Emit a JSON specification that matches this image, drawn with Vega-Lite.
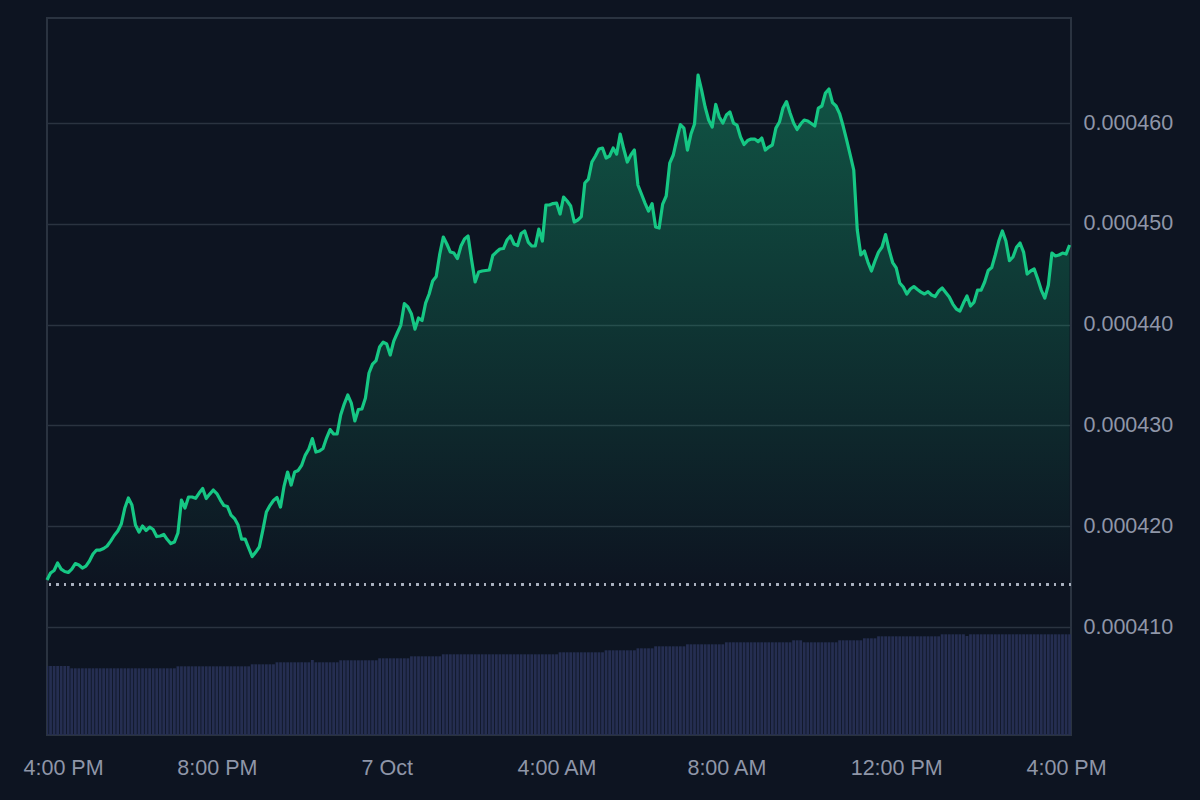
{
"$schema": "https://vega.github.io/schema/vega-lite/v6.json",
"width": 1024, "height": 717,
"autosize": {"type": "none"},
"padding": {"left": 47, "top": 18, "right": 129, "bottom": 65},
"background": "#0d1421",
"config": {"view": {"stroke": "#2a3340", "strokeWidth": 2}, "font": "Liberation Sans"},
"data": {"values": [
{"t":"2024-10-06T16:00Z","p":0.00041466,"v":6.9},
{"t":"2024-10-06T16:05Z","p":0.00041536,"v":6.9},
{"t":"2024-10-06T16:10Z","p":0.00041561,"v":6.9},
{"t":"2024-10-06T16:15Z","p":0.00041635,"v":6.9},
{"t":"2024-10-06T16:20Z","p":0.00041575,"v":6.9},
{"t":"2024-10-06T16:25Z","p":0.00041551,"v":6.9},
{"t":"2024-10-06T16:30Z","p":0.00041541,"v":6.9},
{"t":"2024-10-06T16:35Z","p":0.00041575,"v":6.67},
{"t":"2024-10-06T16:40Z","p":0.00041630,"v":6.67},
{"t":"2024-10-06T16:45Z","p":0.00041615,"v":6.67},
{"t":"2024-10-06T16:50Z","p":0.00041585,"v":6.67},
{"t":"2024-10-06T16:55Z","p":0.00041605,"v":6.67},
{"t":"2024-10-06T17:00Z","p":0.00041655,"v":6.67},
{"t":"2024-10-06T17:05Z","p":0.00041724,"v":6.67},
{"t":"2024-10-06T17:10Z","p":0.00041764,"v":6.67},
{"t":"2024-10-06T17:15Z","p":0.00041764,"v":6.67},
{"t":"2024-10-06T17:20Z","p":0.00041779,"v":6.67},
{"t":"2024-10-06T17:25Z","p":0.00041804,"v":6.67},
{"t":"2024-10-06T17:30Z","p":0.00041853,"v":6.67},
{"t":"2024-10-06T17:35Z","p":0.00041908,"v":6.67},
{"t":"2024-10-06T17:40Z","p":0.00041952,"v":6.67},
{"t":"2024-10-06T17:45Z","p":0.00042022,"v":6.67},
{"t":"2024-10-06T17:50Z","p":0.00042181,"v":6.67},
{"t":"2024-10-06T17:55Z","p":0.00042280,"v":6.67},
{"t":"2024-10-06T18:00Z","p":0.00042210,"v":6.67},
{"t":"2024-10-06T18:05Z","p":0.00042012,"v":6.67},
{"t":"2024-10-06T18:10Z","p":0.00041942,"v":6.67},
{"t":"2024-10-06T18:15Z","p":0.00042002,"v":6.67},
{"t":"2024-10-06T18:20Z","p":0.00041957,"v":6.67},
{"t":"2024-10-06T18:25Z","p":0.00041992,"v":6.67},
{"t":"2024-10-06T18:30Z","p":0.00041967,"v":6.67},
{"t":"2024-10-06T18:35Z","p":0.00041898,"v":6.67},
{"t":"2024-10-06T18:40Z","p":0.00041903,"v":6.67},
{"t":"2024-10-06T18:45Z","p":0.00041918,"v":6.67},
{"t":"2024-10-06T18:50Z","p":0.00041868,"v":6.67},
{"t":"2024-10-06T18:55Z","p":0.00041828,"v":6.67},
{"t":"2024-10-06T19:00Z","p":0.00041843,"v":6.67},
{"t":"2024-10-06T19:05Z","p":0.00041933,"v":6.87},
{"t":"2024-10-06T19:10Z","p":0.00042260,"v":6.87},
{"t":"2024-10-06T19:15Z","p":0.00042181,"v":6.87},
{"t":"2024-10-06T19:20Z","p":0.00042290,"v":6.87},
{"t":"2024-10-06T19:25Z","p":0.00042290,"v":6.87},
{"t":"2024-10-06T19:30Z","p":0.00042277,"v":6.87},
{"t":"2024-10-06T19:35Z","p":0.00042329,"v":6.87},
{"t":"2024-10-06T19:40Z","p":0.00042374,"v":6.87},
{"t":"2024-10-06T19:45Z","p":0.00042275,"v":6.87},
{"t":"2024-10-06T19:50Z","p":0.00042319,"v":6.87},
{"t":"2024-10-06T19:55Z","p":0.00042359,"v":6.87},
{"t":"2024-10-06T20:00Z","p":0.00042324,"v":6.87},
{"t":"2024-10-06T20:05Z","p":0.00042260,"v":6.87},
{"t":"2024-10-06T20:10Z","p":0.00042205,"v":6.87},
{"t":"2024-10-06T20:15Z","p":0.00042195,"v":6.87},
{"t":"2024-10-06T20:20Z","p":0.00042111,"v":6.87},
{"t":"2024-10-06T20:25Z","p":0.00042076,"v":6.87},
{"t":"2024-10-06T20:30Z","p":0.00042012,"v":6.87},
{"t":"2024-10-06T20:35Z","p":0.00041873,"v":6.87},
{"t":"2024-10-06T20:40Z","p":0.00041873,"v":6.87},
{"t":"2024-10-06T20:45Z","p":0.00041784,"v":6.87},
{"t":"2024-10-06T20:50Z","p":0.00041699,"v":7.07},
{"t":"2024-10-06T20:55Z","p":0.00041744,"v":7.07},
{"t":"2024-10-06T21:00Z","p":0.00041794,"v":7.07},
{"t":"2024-10-06T21:05Z","p":0.00041962,"v":7.07},
{"t":"2024-10-06T21:10Z","p":0.00042141,"v":7.07},
{"t":"2024-10-06T21:15Z","p":0.00042205,"v":7.07},
{"t":"2024-10-06T21:20Z","p":0.00042255,"v":7.07},
{"t":"2024-10-06T21:25Z","p":0.00042285,"v":7.27},
{"t":"2024-10-06T21:30Z","p":0.00042190,"v":7.27},
{"t":"2024-10-06T21:35Z","p":0.00042399,"v":7.27},
{"t":"2024-10-06T21:40Z","p":0.00042538,"v":7.27},
{"t":"2024-10-06T21:45Z","p":0.00042409,"v":7.27},
{"t":"2024-10-06T21:50Z","p":0.00042538,"v":7.27},
{"t":"2024-10-06T21:55Z","p":0.00042553,"v":7.27},
{"t":"2024-10-06T22:00Z","p":0.00042607,"v":7.27},
{"t":"2024-10-06T22:05Z","p":0.00042706,"v":7.27},
{"t":"2024-10-06T22:10Z","p":0.00042766,"v":7.27},
{"t":"2024-10-06T22:15Z","p":0.00042870,"v":7.5},
{"t":"2024-10-06T22:20Z","p":0.00042736,"v":7.27},
{"t":"2024-10-06T22:25Z","p":0.00042746,"v":7.27},
{"t":"2024-10-06T22:30Z","p":0.00042771,"v":7.27},
{"t":"2024-10-06T22:35Z","p":0.00042875,"v":7.27},
{"t":"2024-10-06T22:40Z","p":0.00042959,"v":7.27},
{"t":"2024-10-06T22:45Z","p":0.00042915,"v":7.27},
{"t":"2024-10-06T22:50Z","p":0.00042915,"v":7.27},
{"t":"2024-10-06T22:55Z","p":0.00043103,"v":7.47},
{"t":"2024-10-06T23:00Z","p":0.00043212,"v":7.47},
{"t":"2024-10-06T23:05Z","p":0.00043302,"v":7.47},
{"t":"2024-10-06T23:10Z","p":0.00043222,"v":7.47},
{"t":"2024-10-06T23:15Z","p":0.00043044,"v":7.47},
{"t":"2024-10-06T23:20Z","p":0.00043158,"v":7.47},
{"t":"2024-10-06T23:25Z","p":0.00043163,"v":7.47},
{"t":"2024-10-06T23:30Z","p":0.00043272,"v":7.47},
{"t":"2024-10-06T23:35Z","p":0.00043520,"v":7.47},
{"t":"2024-10-06T23:40Z","p":0.00043609,"v":7.47},
{"t":"2024-10-06T23:45Z","p":0.00043644,"v":7.47},
{"t":"2024-10-06T23:50Z","p":0.00043778,"v":7.67},
{"t":"2024-10-06T23:55Z","p":0.00043827,"v":7.67},
{"t":"2024-10-07T00:00Z","p":0.00043808,"v":7.67},
{"t":"2024-10-07T00:05Z","p":0.00043698,"v":7.67},
{"t":"2024-10-07T00:10Z","p":0.00043837,"v":7.67},
{"t":"2024-10-07T00:15Z","p":0.00043917,"v":7.67},
{"t":"2024-10-07T00:20Z","p":0.00043996,"v":7.67},
{"t":"2024-10-07T00:25Z","p":0.00044209,"v":7.67},
{"t":"2024-10-07T00:30Z","p":0.00044175,"v":7.67},
{"t":"2024-10-07T00:35Z","p":0.00044105,"v":7.87},
{"t":"2024-10-07T00:40Z","p":0.00043956,"v":7.87},
{"t":"2024-10-07T00:45Z","p":0.00044066,"v":7.87},
{"t":"2024-10-07T00:50Z","p":0.00044041,"v":7.87},
{"t":"2024-10-07T00:55Z","p":0.00044214,"v":7.87},
{"t":"2024-10-07T01:00Z","p":0.00044304,"v":7.87},
{"t":"2024-10-07T01:05Z","p":0.00044433,"v":7.87},
{"t":"2024-10-07T01:10Z","p":0.00044477,"v":7.87},
{"t":"2024-10-07T01:15Z","p":0.00044700,"v":7.87},
{"t":"2024-10-07T01:20Z","p":0.00044869,"v":8.07},
{"t":"2024-10-07T01:25Z","p":0.00044800,"v":8.07},
{"t":"2024-10-07T01:30Z","p":0.00044720,"v":8.07},
{"t":"2024-10-07T01:35Z","p":0.00044710,"v":8.07},
{"t":"2024-10-07T01:40Z","p":0.00044656,"v":8.07},
{"t":"2024-10-07T01:45Z","p":0.00044780,"v":8.07},
{"t":"2024-10-07T01:50Z","p":0.00044849,"v":8.07},
{"t":"2024-10-07T01:55Z","p":0.00044879,"v":8.07},
{"t":"2024-10-07T02:00Z","p":0.00044641,"v":8.07},
{"t":"2024-10-07T02:05Z","p":0.00044423,"v":8.07},
{"t":"2024-10-07T02:10Z","p":0.00044522,"v":8.07},
{"t":"2024-10-07T02:15Z","p":0.00044532,"v":8.07},
{"t":"2024-10-07T02:20Z","p":0.00044537,"v":8.07},
{"t":"2024-10-07T02:25Z","p":0.00044542,"v":8.07},
{"t":"2024-10-07T02:30Z","p":0.00044686,"v":8.07},
{"t":"2024-10-07T02:35Z","p":0.00044720,"v":8.07},
{"t":"2024-10-07T02:40Z","p":0.00044750,"v":8.07},
{"t":"2024-10-07T02:45Z","p":0.00044755,"v":8.07},
{"t":"2024-10-07T02:50Z","p":0.00044839,"v":8.07},
{"t":"2024-10-07T02:55Z","p":0.00044879,"v":8.07},
{"t":"2024-10-07T03:00Z","p":0.00044800,"v":8.07},
{"t":"2024-10-07T03:05Z","p":0.00044785,"v":8.07},
{"t":"2024-10-07T03:10Z","p":0.00044904,"v":8.07},
{"t":"2024-10-07T03:15Z","p":0.00044929,"v":8.07},
{"t":"2024-10-07T03:20Z","p":0.00044819,"v":8.07},
{"t":"2024-10-07T03:25Z","p":0.00044780,"v":8.07},
{"t":"2024-10-07T03:30Z","p":0.00044780,"v":8.07},
{"t":"2024-10-07T03:35Z","p":0.00044948,"v":8.07},
{"t":"2024-10-07T03:40Z","p":0.00044829,"v":8.07},
{"t":"2024-10-07T03:45Z","p":0.00045187,"v":8.07},
{"t":"2024-10-07T03:50Z","p":0.00045187,"v":8.07},
{"t":"2024-10-07T03:55Z","p":0.00045201,"v":8.07},
{"t":"2024-10-07T04:00Z","p":0.00045206,"v":8.07},
{"t":"2024-10-07T04:05Z","p":0.00045097,"v":8.27},
{"t":"2024-10-07T04:10Z","p":0.00045266,"v":8.27},
{"t":"2024-10-07T04:15Z","p":0.00045226,"v":8.27},
{"t":"2024-10-07T04:20Z","p":0.00045177,"v":8.27},
{"t":"2024-10-07T04:25Z","p":0.00045018,"v":8.27},
{"t":"2024-10-07T04:30Z","p":0.00045038,"v":8.27},
{"t":"2024-10-07T04:35Z","p":0.00045072,"v":8.27},
{"t":"2024-10-07T04:40Z","p":0.00045405,"v":8.27},
{"t":"2024-10-07T04:45Z","p":0.00045444,"v":8.27},
{"t":"2024-10-07T04:50Z","p":0.00045613,"v":8.27},
{"t":"2024-10-07T04:55Z","p":0.00045673,"v":8.27},
{"t":"2024-10-07T05:00Z","p":0.00045742,"v":8.27},
{"t":"2024-10-07T05:05Z","p":0.00045752,"v":8.27},
{"t":"2024-10-07T05:10Z","p":0.00045653,"v":8.47},
{"t":"2024-10-07T05:15Z","p":0.00045673,"v":8.47},
{"t":"2024-10-07T05:20Z","p":0.00045752,"v":8.47},
{"t":"2024-10-07T05:25Z","p":0.00045692,"v":8.47},
{"t":"2024-10-07T05:30Z","p":0.00045891,"v":8.47},
{"t":"2024-10-07T05:35Z","p":0.00045742,"v":8.47},
{"t":"2024-10-07T05:40Z","p":0.00045613,"v":8.47},
{"t":"2024-10-07T05:45Z","p":0.00045683,"v":8.47},
{"t":"2024-10-07T05:50Z","p":0.00045732,"v":8.47},
{"t":"2024-10-07T05:55Z","p":0.00045385,"v":8.67},
{"t":"2024-10-07T06:00Z","p":0.00045296,"v":8.67},
{"t":"2024-10-07T06:05Z","p":0.00045206,"v":8.67},
{"t":"2024-10-07T06:10Z","p":0.00045127,"v":8.67},
{"t":"2024-10-07T06:15Z","p":0.00045201,"v":8.67},
{"t":"2024-10-07T06:20Z","p":0.00044968,"v":8.87},
{"t":"2024-10-07T06:25Z","p":0.00044958,"v":8.87},
{"t":"2024-10-07T06:30Z","p":0.00045196,"v":8.87},
{"t":"2024-10-07T06:35Z","p":0.00045276,"v":8.87},
{"t":"2024-10-07T06:40Z","p":0.00045603,"v":8.87},
{"t":"2024-10-07T06:45Z","p":0.00045683,"v":8.87},
{"t":"2024-10-07T06:50Z","p":0.00045841,"v":8.87},
{"t":"2024-10-07T06:55Z","p":0.00045985,"v":8.87},
{"t":"2024-10-07T07:00Z","p":0.00045950,"v":8.87},
{"t":"2024-10-07T07:05Z","p":0.00045732,"v":9.07},
{"t":"2024-10-07T07:10Z","p":0.00045891,"v":9.07},
{"t":"2024-10-07T07:15Z","p":0.00045990,"v":9.07},
{"t":"2024-10-07T07:20Z","p":0.00046476,"v":9.07},
{"t":"2024-10-07T07:25Z","p":0.00046327,"v":9.07},
{"t":"2024-10-07T07:30Z","p":0.00046159,"v":9.07},
{"t":"2024-10-07T07:35Z","p":0.00046030,"v":9.07},
{"t":"2024-10-07T07:40Z","p":0.00045960,"v":9.07},
{"t":"2024-10-07T07:45Z","p":0.00046184,"v":9.07},
{"t":"2024-10-07T07:50Z","p":0.00046060,"v":9.07},
{"t":"2024-10-07T07:55Z","p":0.00046000,"v":9.07},
{"t":"2024-10-07T08:00Z","p":0.00046079,"v":9.27},
{"t":"2024-10-07T08:05Z","p":0.00046109,"v":9.27},
{"t":"2024-10-07T08:10Z","p":0.00046000,"v":9.27},
{"t":"2024-10-07T08:15Z","p":0.00045980,"v":9.27},
{"t":"2024-10-07T08:20Z","p":0.00045861,"v":9.27},
{"t":"2024-10-07T08:25Z","p":0.00045787,"v":9.27},
{"t":"2024-10-07T08:30Z","p":0.00045826,"v":9.27},
{"t":"2024-10-07T08:35Z","p":0.00045841,"v":9.27},
{"t":"2024-10-07T08:40Z","p":0.00045841,"v":9.27},
{"t":"2024-10-07T08:45Z","p":0.00045816,"v":9.27},
{"t":"2024-10-07T08:50Z","p":0.00045851,"v":9.27},
{"t":"2024-10-07T08:55Z","p":0.00045732,"v":9.27},
{"t":"2024-10-07T09:00Z","p":0.00045762,"v":9.27},
{"t":"2024-10-07T09:05Z","p":0.00045782,"v":9.27},
{"t":"2024-10-07T09:10Z","p":0.00045950,"v":9.27},
{"t":"2024-10-07T09:15Z","p":0.00046010,"v":9.27},
{"t":"2024-10-07T09:20Z","p":0.00046149,"v":9.27},
{"t":"2024-10-07T09:25Z","p":0.00046213,"v":9.27},
{"t":"2024-10-07T09:30Z","p":0.00046099,"v":9.27},
{"t":"2024-10-07T09:35Z","p":0.00046000,"v":9.47},
{"t":"2024-10-07T09:40Z","p":0.00045936,"v":9.47},
{"t":"2024-10-07T09:45Z","p":0.00045990,"v":9.47},
{"t":"2024-10-07T09:50Z","p":0.00046030,"v":9.27},
{"t":"2024-10-07T09:55Z","p":0.00046020,"v":9.27},
{"t":"2024-10-07T10:00Z","p":0.00045995,"v":9.27},
{"t":"2024-10-07T10:05Z","p":0.00045970,"v":9.27},
{"t":"2024-10-07T10:10Z","p":0.00046149,"v":9.27},
{"t":"2024-10-07T10:15Z","p":0.00046169,"v":9.27},
{"t":"2024-10-07T10:20Z","p":0.00046298,"v":9.27},
{"t":"2024-10-07T10:25Z","p":0.00046337,"v":9.27},
{"t":"2024-10-07T10:30Z","p":0.00046203,"v":9.27},
{"t":"2024-10-07T10:35Z","p":0.00046169,"v":9.27},
{"t":"2024-10-07T10:40Z","p":0.00046094,"v":9.47},
{"t":"2024-10-07T10:45Z","p":0.00045970,"v":9.47},
{"t":"2024-10-07T10:50Z","p":0.00045831,"v":9.47},
{"t":"2024-10-07T10:55Z","p":0.00045683,"v":9.47},
{"t":"2024-10-07T11:00Z","p":0.00045534,"v":9.47},
{"t":"2024-10-07T11:05Z","p":0.00044939,"v":9.47},
{"t":"2024-10-07T11:10Z","p":0.00044691,"v":9.47},
{"t":"2024-10-07T11:15Z","p":0.00044730,"v":9.67},
{"t":"2024-10-07T11:20Z","p":0.00044621,"v":9.67},
{"t":"2024-10-07T11:25Z","p":0.00044532,"v":9.67},
{"t":"2024-10-07T11:30Z","p":0.00044631,"v":9.67},
{"t":"2024-10-07T11:35Z","p":0.00044720,"v":9.87},
{"t":"2024-10-07T11:40Z","p":0.00044770,"v":9.87},
{"t":"2024-10-07T11:45Z","p":0.00044894,"v":9.87},
{"t":"2024-10-07T11:50Z","p":0.00044740,"v":9.87},
{"t":"2024-10-07T11:55Z","p":0.00044616,"v":9.87},
{"t":"2024-10-07T12:00Z","p":0.00044562,"v":9.87},
{"t":"2024-10-07T12:05Z","p":0.00044413,"v":9.87},
{"t":"2024-10-07T12:10Z","p":0.00044373,"v":9.87},
{"t":"2024-10-07T12:15Z","p":0.00044304,"v":9.87},
{"t":"2024-10-07T12:20Z","p":0.00044353,"v":9.87},
{"t":"2024-10-07T12:25Z","p":0.00044378,"v":9.87},
{"t":"2024-10-07T12:30Z","p":0.00044348,"v":9.87},
{"t":"2024-10-07T12:35Z","p":0.00044323,"v":9.87},
{"t":"2024-10-07T12:40Z","p":0.00044304,"v":9.87},
{"t":"2024-10-07T12:45Z","p":0.00044328,"v":9.87},
{"t":"2024-10-07T12:50Z","p":0.00044294,"v":9.87},
{"t":"2024-10-07T12:55Z","p":0.00044279,"v":9.87},
{"t":"2024-10-07T13:00Z","p":0.00044333,"v":9.87},
{"t":"2024-10-07T13:05Z","p":0.00044363,"v":10.07},
{"t":"2024-10-07T13:10Z","p":0.00044318,"v":10.07},
{"t":"2024-10-07T13:15Z","p":0.00044274,"v":10.07},
{"t":"2024-10-07T13:20Z","p":0.00044204,"v":10.07},
{"t":"2024-10-07T13:25Z","p":0.00044155,"v":10.07},
{"t":"2024-10-07T13:30Z","p":0.00044135,"v":10.07},
{"t":"2024-10-07T13:35Z","p":0.00044214,"v":10.07},
{"t":"2024-10-07T13:40Z","p":0.00044284,"v":9.9},
{"t":"2024-10-07T13:45Z","p":0.00044185,"v":10.07},
{"t":"2024-10-07T13:50Z","p":0.00044224,"v":10.07},
{"t":"2024-10-07T13:55Z","p":0.00044343,"v":10.07},
{"t":"2024-10-07T14:00Z","p":0.00044343,"v":10.07},
{"t":"2024-10-07T14:05Z","p":0.00044423,"v":10.07},
{"t":"2024-10-07T14:10Z","p":0.00044537,"v":10.07},
{"t":"2024-10-07T14:15Z","p":0.00044567,"v":10.07},
{"t":"2024-10-07T14:20Z","p":0.00044691,"v":10.07},
{"t":"2024-10-07T14:25Z","p":0.00044829,"v":10.07},
{"t":"2024-10-07T14:30Z","p":0.00044929,"v":10.07},
{"t":"2024-10-07T14:35Z","p":0.00044829,"v":10.07},
{"t":"2024-10-07T14:40Z","p":0.00044634,"v":10.07},
{"t":"2024-10-07T14:45Z","p":0.00044671,"v":10.07},
{"t":"2024-10-07T14:50Z","p":0.00044767,"v":10.07},
{"t":"2024-10-07T14:55Z","p":0.00044810,"v":10.07},
{"t":"2024-10-07T15:00Z","p":0.00044720,"v":10.07},
{"t":"2024-10-07T15:05Z","p":0.00044502,"v":10.07},
{"t":"2024-10-07T15:10Z","p":0.00044532,"v":10.07},
{"t":"2024-10-07T15:15Z","p":0.00044552,"v":10.07},
{"t":"2024-10-07T15:20Z","p":0.00044452,"v":10.07},
{"t":"2024-10-07T15:25Z","p":0.00044343,"v":10.07},
{"t":"2024-10-07T15:30Z","p":0.00044264,"v":10.07},
{"t":"2024-10-07T15:35Z","p":0.00044393,"v":10.07},
{"t":"2024-10-07T15:40Z","p":0.00044710,"v":10.07},
{"t":"2024-10-07T15:45Z","p":0.00044681,"v":10.07},
{"t":"2024-10-07T15:50Z","p":0.00044691,"v":10.07},
{"t":"2024-10-07T15:55Z","p":0.00044710,"v":10.07},
{"t":"2024-10-07T16:00Z","p":0.00044700,"v":10.07},
{"t":"2024-10-07T16:05Z","p":0.00044790,"v":10.07}
]},
"layer": [
  {
    "mark": {"type": "bar", "width": 2.8, "color": "#252e51", "clip": true},
    "encoding": {
      "x": {"field": "t", "type": "temporal", "title": null,
        "scale": {"type": "utc", "padding": 0, "domain": [{"year": 2024, "month": 10, "date": 6, "hours": 16, "utc": true}, {"year": 2024, "month": 10, "date": 7, "hours": 16, "minutes": 7, "utc": true}]},
        "axis": {
          "values": [
            {"year": 2024, "month": 10, "date": 6, "hours": 16, "utc": true},
            {"year": 2024, "month": 10, "date": 6, "hours": 20, "utc": true},
            {"year": 2024, "month": 10, "date": 7, "hours": 0, "utc": true},
            {"year": 2024, "month": 10, "date": 7, "hours": 4, "utc": true},
            {"year": 2024, "month": 10, "date": 7, "hours": 8, "utc": true},
            {"year": 2024, "month": 10, "date": 7, "hours": 12, "utc": true},
            {"year": 2024, "month": 10, "date": 7, "hours": 16, "utc": true}
          ],
          "labelExpr": "utchours(datum.value) === 0 ? utcFormat(datum.value, '%-d %b') : utcFormat(datum.value, '%-I:%M %p')",
          "domain": false, "ticks": false, "tickSize": 0, "grid": false,
          "labelFlush": 1, "labelFlushOffset": 24, "labelOverlap": false,
          "labelColor": "#8f96a8", "labelFontSize": 21.5, "labelFont": "Liberation Sans",
          "labelPadding": 22
        }
      },
      "y": {"field": "v", "type": "quantitative", "scale": {"domain": [0, 71.7], "nice": false}, "axis": null}
    }
  },
  {
    "layer": [
      {
        "mark": {"type": "area", "line": false,
          "fill": {"gradient": "linear", "x1": 0, "y1": 0, "x2": 0, "y2": 1,
            "stops": [{"offset": 0, "color": "rgba(22,199,132,0.36)"}, {"offset": 1, "color": "rgba(22,199,132,0.0)"}]}},
        "encoding": {
          "x": {"field": "t", "type": "temporal", "title": null, "scale": {"type": "utc", "padding": 0}},
          "y": {"field": "p", "type": "quantitative", "title": null,
            "scale": {"domain": [0.00039929, 0.00047042], "nice": false, "zero": false},
            "axis": {
              "orient": "right",
              "values": [0.00041, 0.00042, 0.00043, 0.00044, 0.00045, 0.00046],
              "format": ".6f",
              "domain": false, "ticks": false, "tickSize": 0, "grid": true,
              "gridColor": "#2a3340", "gridWidth": 1.6,
              "labelColor": "#8f96a8", "labelFontSize": 21.5, "labelFont": "Liberation Sans",
              "labelPadding": 12, "labelBaseline": "middle"
            }
          },
          "y2": {"datum": 0.00041422}
        }
      },
      {
        "mark": {"type": "line", "color": "#16c784", "strokeWidth": 3.2, "strokeJoin": "round"},
        "encoding": {
          "x": {"field": "t", "type": "temporal", "title": null, "scale": {"type": "utc", "padding": 0}},
          "y": {"field": "p", "type": "quantitative", "title": null}
        }
      },
      {
        "mark": {"type": "rule", "color": "#aab2c0", "strokeWidth": 2, "strokeDash": [2, 5.5], "opacity": 0.85},
        "encoding": {"y": {"datum": 0.00041422, "type": "quantitative"}}
      }
    ]
  }
],
"resolve": {"scale": {"y": "independent"}}
}
